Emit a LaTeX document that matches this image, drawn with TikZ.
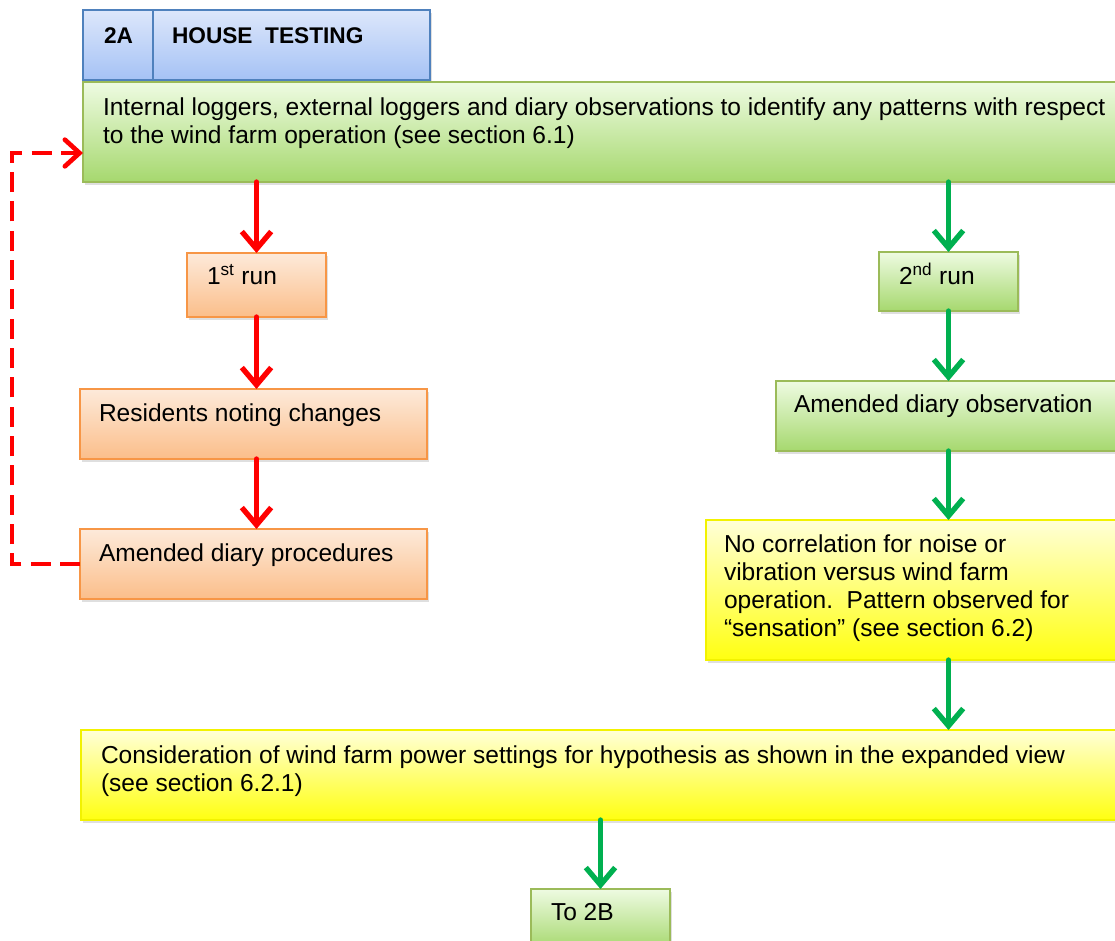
\documentclass[tikz,border=0pt]{standalone}
\usepackage{fontspec}
\setmainfont{Liberation Sans}
\usetikzlibrary{calc,arrows.meta,shadows}

\definecolor{greenline}{HTML}{9BBB59}
\definecolor{greentop}{HTML}{EEFBE2}
\definecolor{greenbot}{HTML}{A6D86E}
\definecolor{orangeline}{HTML}{F79646}
\definecolor{orangetop}{HTML}{FDEADA}
\definecolor{orangebot}{HTML}{FBBE8A}
\definecolor{blueline}{HTML}{4F81BD}
\definecolor{bluetop}{HTML}{DDE7FB}
\definecolor{bluebot}{HTML}{A5C2F5}
\definecolor{yellowline}{HTML}{F2F200}
\definecolor{yellowtop}{HTML}{FFFFD8}
\definecolor{yellowbot}{HTML}{FFFF10}
\definecolor{flowred}{HTML}{FF0000}
\definecolor{flowgreen}{HTML}{00B050}

\begin{document}
\begin{tikzpicture}[x=0.75pt, y=-0.75pt, inner sep=0pt, outer sep=0pt,
    every node/.style={font=\fontsize{18.4}{21}\selectfont, align=left},
    box/.style={draw, line width=1.5pt, anchor=north west,
        drop shadow={shadow xshift=1.5pt, shadow yshift=-2pt, opacity=0.25}},
    greenbox/.style={box, draw=greenline, top color=greentop,
        middle color=greentop!75!greenbot, bottom color=greenbot},
    orangebox/.style={box, draw=orangeline, top color=orangetop,
        middle color=orangetop!70!orangebot, bottom color=orangebot},
    bluebox/.style={box, draw=blueline, top color=bluetop,
        middle color=bluetop!70!bluebot, bottom color=bluebot},
    yellowbox/.style={box, draw=yellowline, top color=yellowtop,
        middle color=yellowtop!55!yellowbot, bottom color=yellowbot},
    txt/.style={anchor=base west},
    titletxt/.style={txt, font=\fontsize{17}{20}\selectfont\bfseries},
    red flow/.style={draw=flowred, line width=4pt, line cap=round, line join=round,
        -{Straight Barb[length=13pt, width=22pt]}},
    green flow/.style={red flow, draw=flowgreen},
    loop back/.style={draw=flowred, line width=3.5pt, dashed, dash pattern=on 15pt off 7pt,
        -{Straight Barb[length=11pt, width=20pt, line cap=round]}}]

    \clip (0,0) rectangle (1115,940);

    % header
    \node[bluebox, minimum width=52.5pt, minimum height=52.5pt] (house_id) at (83,10) {};
    \node[bluebox, minimum width=207.75pt, minimum height=52.5pt] (house_title) at (153,10) {};
    \node[titletxt] (house_id_txt) at ($(house_id.north west)+(21,33)$) {2A};
    \node[titletxt] (house_title_txt) at ($(house_title.north west)+(19,33)$) {HOUSE\ \ TESTING};

    % loggers
    \node[greenbox, minimum width=781.5pt, minimum height=75pt] (loggers) at (83,82) {};
    \node[txt] (loggers_txt) at ($(loggers.north west)+(20,61)$)
    {Internal loggers, external loggers and diary observations to identify any patterns with respect\\
     to the wind farm operation (see section 6.1)};

    % first run
    \node[orangebox, minimum width=104.25pt, minimum height=48pt] (run_one) at (187,253) {};
    \node[txt] (run_one_txt) at ($(run_one.north west)+(20,31)$) {1\textsuperscript{st} run};

    \node[orangebox, minimum width=260.25pt, minimum height=52.5pt] (residents) at (80,389) {};
    \node[txt] (residents_txt) at ($(residents.north west)+(19,32)$) {Residents noting changes};

    \node[orangebox, minimum width=260.25pt, minimum height=52.5pt] (procedures) at (80,529) {};
    \node[txt] (procedures_txt) at ($(procedures.north west)+(19,32)$) {Amended diary procedures};

    % second run
    \node[greenbox, minimum width=104.25pt, minimum height=44.25pt] (run_two) at (879,252) {};
    \node[txt] (run_two_txt) at ($(run_two.north west)+(20,32)$) {2\textsuperscript{nd} run};

    \node[greenbox, minimum width=262.5pt, minimum height=52.5pt] (observation) at (776,381) {};
    \node[txt] (observation_txt) at ($(observation.north west)+(18,31)$) {Amended diary observation};

    \node[yellowbox, minimum width=315pt, minimum height=105pt] (no_corr) at (706,520) {};
    \node[txt] (no_corr_txt) at ($(no_corr.north west)+(18,116)$)
    {No correlation for noise or\\
     vibration versus wind farm\\
     operation.\ \ Pattern observed for\\
     “sensation” (see section 6.2)};

    % power settings
    \node[yellowbox, minimum width=783.75pt, minimum height=67.5pt] (power) at (81,730) {};
    \node[txt] (power_txt) at ($(power.north west)+(20,61)$)
    {Consideration of wind farm power settings for hypothesis as shown in the expanded view\\
     (see section 6.2.1)};

    \node[greenbox, minimum width=104.25pt, minimum height=45pt] (to_2b) at (531,889) {};
    \node[txt] (to_2b_txt) at ($(to_2b.north west)+(20,31)$) {To 2B};

    % connectors
    \draw[red flow] (loggers.south -| run_one.north) -- (run_one.north);
    \draw[red flow] (run_one.south) -- (residents.north -| run_one.south);
    \draw[red flow] (residents.south -| run_one.south) -- (procedures.north -| run_one.south);

    \draw[green flow] (loggers.south -| run_two.north) -- (run_two.north);
    \draw[green flow] (run_two.south) -- (observation.north -| run_two.south);
    \draw[green flow] (observation.south -| run_two.south) -- (no_corr.north -| run_two.south);
    \draw[green flow] (no_corr.south -| run_two.south) -- (power.north -| run_two.south);
    \draw[green flow] (power.south -| to_2b.north) -- (to_2b.north);

    % loop back
    \coordinate (loop_in) at ($(loggers.west)+(0,21)$);
    \coordinate (loop_corner) at ($(procedures.west)+(-68,0)$);
    \draw[loop back] (procedures.west) -- (loop_corner) |- (loop_in);

\end{tikzpicture}
\end{document}
